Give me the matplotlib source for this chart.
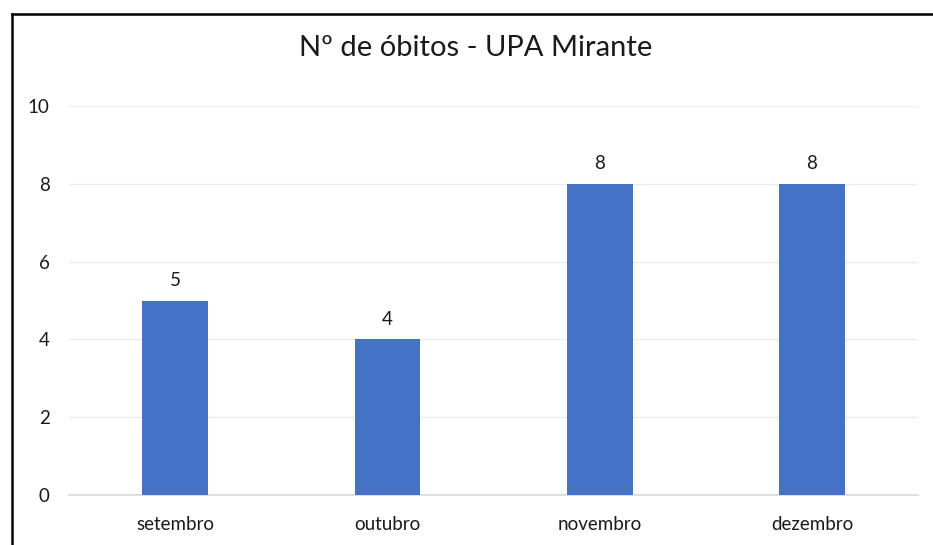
import matplotlib.pyplot as plt
from matplotlib.lines import Line2D

# Data
meses = ["setembro", "outubro", "novembro", "dezembro"]
obitos = [5, 4, 8, 8]
y_ticks = [0, 2, 4, 6, 8, 10]

plt.rcParams['font.family'] = ['Lato', 'DejaVu Sans']

fig = plt.figure(figsize=(9.33, 5.45), dpi=100)
ax = fig.add_axes([0.074, 0.0917, 0.91, 0.7138])

x = range(len(meses))
bars = ax.bar(x, obitos, width=0.31, color="#4472C4", zorder=3)

for bar in bars:
    ax.text(bar.get_x() + bar.get_width() / 2, bar.get_height() + 0.3,
            f"{int(bar.get_height())}", ha="center", va="bottom",
            fontsize=13.5, color="#1a1a1a")

ax.set_xlim(-0.5, len(meses) - 0.5)
ax.set_ylim(0, 10)
ax.set_yticks(y_ticks)
ax.set_xticks(list(x))
ax.set_xticklabels(meses)
ax.tick_params(axis="both", length=0, labelsize=13.5, labelcolor="#1a1a1a")
ax.tick_params(axis="y", pad=14)
ax.tick_params(axis="x", pad=15)
ax.grid(axis="y", color="#EBEBEB", linewidth=1, zorder=0)

for side in ["top", "right", "left"]:
    ax.spines[side].set_visible(False)
ax.spines["bottom"].set_color("#D9D9D9")
ax.spines["bottom"].set_linewidth(1.2)

fig.text(0.51, 0.912, "Nº de óbitos - UPA Mirante", ha="center", va="center",
         fontsize=21, color="#1a1a1a")

# the chart frame, cropped on the right and at the bottom
fig.add_artist(Line2D([11.5 / 933, 11.5 / 933], [0, 1 - 14 / 545],
                      color="black", linewidth=1.8, transform=fig.transFigure))
fig.add_artist(Line2D([11.5 / 933, 1], [1 - 14 / 545, 1 - 14 / 545],
                      color="black", linewidth=1.8, transform=fig.transFigure))

fig.savefig("out.png", dpi=100)
